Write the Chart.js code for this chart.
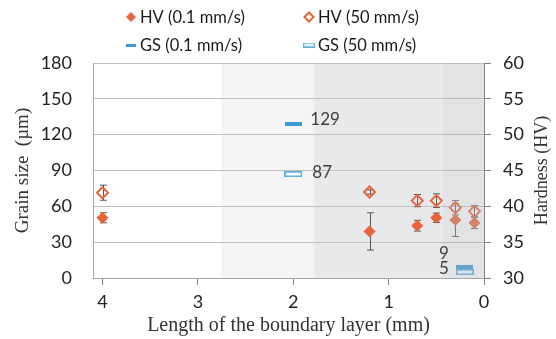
<!DOCTYPE html>
<html>
<head>
<meta charset="utf-8">
<script src="https://cdn.jsdelivr.net/npm/chart.js@4.4.1/dist/chart.umd.min.js"></script>
<style>
  html, body { margin: 0; padding: 0; background: #fff; }
</style>
</head>
<body>
<canvas id="chart" width="556" height="339"></canvas>
<script>
// boundary layer length (mm) where hardness was measured
const hvX = [4, 1.2, 0.7, 0.5, 0.3, 0.1];
const hvSlow = [38.4, 36.5, 37.3, 38.4, 38.1, 37.7];
const hvSlowErr = [0.7, 2.6, 0.75, 0.65, 2.3, 0.8];
const hvFast = [41.9, 42.0, 40.8, 40.8, 39.8, 39.3];
const hvFastErr = [1.05, 0.3, 0.85, 0.95, 1.0, 0.8];

// grain size (um)
const gsX = [2, 0.2];
const gsSlow = [129, 9];
const gsFast = [87, 5];

// shaded zones along the boundary layer (mm)
const zoneEdges = [2.75, 1.78, 0.43, 0];
const xTicks = [0, 1, 2, 3, 4];

const ORANGE = '#e8643c';
const BLUE = '#3b9ad6';
const TICK_FONT = { family: 'Lato', size: 18 };

// little horizontal bars used as markers for grain size
function makeBar(w, h, fill, stroke, lw) {
  const c = document.createElement('canvas');
  c.width = w; c.height = h;
  const g = c.getContext('2d');
  g.fillStyle = fill;
  g.fillRect(0, 0, w, h);
  if (stroke) {
    g.strokeStyle = stroke;
    g.lineWidth = lw;
    g.strokeRect(lw / 2, lw / 2, w - lw, h - lw);
  }
  return c;
}

const barSolid = makeBar(17, 4, BLUE);
const barOpen = makeBar(18, 6, '#fff', '#5aaee0', 1.6);
const legBarSolid = makeBar(10, 3, BLUE);
const legBarOpen = makeBar(12, 5, '#fff', '#5aaee0', 1.3);

const pts = (xs, ys) => xs.map((x, i) => ({ x: x, y: ys[i] }));

// label offsets for the grain size values
const gsLabelPos = [
  [{ dx: 17, dy: -4, align: 'left' }, { dx: -16, dy: -14, align: 'right' }],
  [{ dx: 19, dy: -2, align: 'left' }, { dx: -16, dy: -4, align: 'right' }]
];

const zonesPlugin = {
  id: 'zones',
  beforeDraw(chart) {
    const { ctx, chartArea: a, scales: { x } } = chart;
    const fills = ['#f4f4f4', '#e8e9eb'];
    ctx.save();
    for (let i = 0; i < fills.length; i++) {
      const x1 = x.getPixelForValue(zoneEdges[i]);
      const x2 = x.getPixelForValue(zoneEdges[i + 1]);
      ctx.fillStyle = fills[i];
      ctx.fillRect(x1, a.top, x2 - x1, a.bottom - a.top);
    }
    ctx.restore();
  },
  afterDatasetsDraw(chart) {
    // the last zone is a translucent layer over everything
    const { ctx, chartArea: a, scales: { x } } = chart;
    const x1 = x.getPixelForValue(zoneEdges[2]);
    const x2 = x.getPixelForValue(zoneEdges[3]);
    ctx.save();
    ctx.fillStyle = 'rgba(180,181,183,0.38)';
    ctx.fillRect(x1, a.top, x2 - x1, a.bottom - a.top);
    ctx.restore();
  }
};

const errorBarsPlugin = {
  id: 'errorBars',
  beforeDatasetsDraw(chart) {
    const { ctx, scales } = chart;
    ctx.save();
    ctx.strokeStyle = '#555';
    ctx.lineWidth = 1;
    chart.data.datasets.forEach(ds => {
      if (!ds.errors) return;
      const ys = scales[ds.yAxisID];
      ds.data.forEach((p, i) => {
        const px = Math.round(scales.x.getPixelForValue(p.x)) + 0.5;
        const top = ys.getPixelForValue(p.y + ds.errors[i]);
        const bot = ys.getPixelForValue(p.y - ds.errors[i]);
        ctx.beginPath();
        ctx.moveTo(px, top); ctx.lineTo(px, bot);
        ctx.moveTo(px - 3.5, top); ctx.lineTo(px + 3.5, top);
        ctx.moveTo(px - 3.5, bot); ctx.lineTo(px + 3.5, bot);
        ctx.stroke();
      });
    });
    ctx.restore();
  }
};

const valueLabelsPlugin = {
  id: 'valueLabels',
  afterDatasetsDraw(chart) {
    const { ctx } = chart;
    ctx.save();
    ctx.font = '17px Lato';
    ctx.fillStyle = '#404040';
    ctx.textBaseline = 'middle';
    [2, 3].forEach((di, k) => {
      const meta = chart.getDatasetMeta(di);
      meta.data.forEach((el, i) => {
        const pos = gsLabelPos[k][i];
        ctx.textAlign = pos.align;
        ctx.fillText(String(chart.data.datasets[di].data[i].y), el.x + pos.dx, el.y + pos.dy);
      });
    });
    ctx.restore();
  }
};

// right axis title reads bottom-to-top, like the left one
const rightTitlePlugin = {
  id: 'rightTitle',
  afterDraw(chart) {
    const { ctx, chartArea: a } = chart;
    ctx.save();
    ctx.translate(542, (a.top + a.bottom) / 2);
    ctx.rotate(-Math.PI / 2);
    ctx.font = '18px "Liberation Serif"';
    ctx.fillStyle = '#333';
    ctx.textAlign = 'center';
    ctx.textBaseline = 'middle';
    ctx.fillText('Hardness (HV)', 0, 0);
    ctx.restore();
  }
};

const legendPlugin = {
  id: 'gridLegend',
  afterDraw(chart) {
    const { ctx } = chart;
    const cols = [131, 309];
    const rows = [17, 45];
    const textX = [140, 318];
    const markers = [null, null, legBarSolid, legBarOpen];
    ctx.save();
    ctx.font = '16.5px Lato';
    ctx.textBaseline = 'middle';
    ctx.textAlign = 'left';
    chart.data.datasets.forEach((ds, i) => {
      const c = i % 2, r = Math.floor(i / 2);
      if (markers[i]) {
        ctx.drawImage(markers[i], cols[c] - markers[i].width / 2, rows[r] - markers[i].height / 2);
      } else {
        ctx.fillStyle = ds.backgroundColor;
        ctx.strokeStyle = ds.borderColor;
        ctx.lineWidth = ds.borderWidth;
        Chart.helpers.drawPoint(ctx, { pointStyle: 'rectRot', radius: 4.5, borderWidth: ds.borderWidth, rotation: 0 }, cols[c], rows[r]);
      }
      ctx.fillStyle = '#1a1a1a';
      ctx.fillText(ds.label, textX[c], rows[r] + 1);
    });
    ctx.restore();
  }
};

new Chart(document.getElementById('chart'), {
  type: 'scatter',
  data: {
    datasets: [
      {
        label: 'HV (0.1 mm/s)', data: pts(hvX, hvSlow), errors: hvSlowErr, yAxisID: 'y1',
        pointStyle: 'rectRot', pointRadius: 5.5, backgroundColor: ORANGE, borderColor: ORANGE, borderWidth: 1
      },
      {
        label: 'HV (50 mm/s)', data: pts(hvX, hvFast), errors: hvFastErr, yAxisID: 'y1',
        pointStyle: 'rectRot', pointRadius: 5.5, backgroundColor: 'rgba(0,0,0,0)', borderColor: ORANGE, borderWidth: 2
      },
      { label: 'GS (0.1 mm/s)', data: pts(gsX, gsSlow), yAxisID: 'y', pointStyle: barSolid },
      { label: 'GS (50 mm/s)', data: pts(gsX, gsFast), yAxisID: 'y', pointStyle: barOpen }
    ]
  },
  options: {
    responsive: false,
    animation: false,
    layout: { padding: { top: 63, left: 0, right: 0, bottom: 0 } },
    plugins: { legend: { display: false }, tooltip: { enabled: false } },
    scales: {
      x: {
        type: 'linear', reverse: true, min: 0, max: 4.1,
        afterBuildTicks: s => { s.ticks = xTicks.map(v => ({ value: v })); },
        afterFit: s => { s.height = 61; },
        grid: { drawOnChartArea: false, tickLength: 7, color: '#808080' },
        border: { color: '#a6a6a6' },
        ticks: { font: TICK_FONT, color: '#222', padding: 6, maxRotation: 0 },
        title: { display: true, text: 'Length of the boundary layer (mm)', font: { family: 'Liberation Serif', size: 20 }, color: '#333', padding: { top: 0, bottom: 1 } }
      },
      y: {
        position: 'left', min: 0, max: 180,
        afterFit: s => { s.width = 93; },
        grid: { color: '#c0c0c0', drawTicks: false },
        border: { color: '#a6a6a6' },
        ticks: { stepSize: 30, font: TICK_FONT, color: '#222', padding: 21 },
        title: { display: true, text: 'Grain size  (µm)', font: { family: 'Liberation Serif', size: 19 }, color: '#333', padding: { top: 12, bottom: 0 } }
      },
      y1: {
        position: 'right', min: 30, max: 60,
        afterFit: s => { s.width = 72; },
        grid: { drawOnChartArea: false, tickLength: 7, color: '#808080' },
        border: { color: '#808080' },
        ticks: { stepSize: 5, font: TICK_FONT, color: '#222', padding: 12 }
      }
    }
  },
  plugins: [zonesPlugin, errorBarsPlugin, valueLabelsPlugin, rightTitlePlugin, legendPlugin]
});
</script>
</body>
</html>
